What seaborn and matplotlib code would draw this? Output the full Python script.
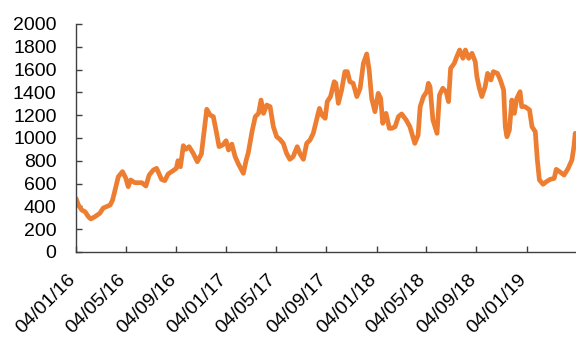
import matplotlib
matplotlib.use("Agg")
import matplotlib.pyplot as plt
import matplotlib.dates as mdates
import matplotlib.transforms as mtransforms
import pandas as pd
import seaborn as sns

dates = [
    "2016-01-04", "2016-01-10", "2016-01-18", "2016-01-26", "2016-02-03", "2016-02-09",
    "2016-02-19", "2016-03-02", "2016-03-10", "2016-03-27", "2016-04-02", "2016-04-08",
    "2016-04-16", "2016-04-26", "2016-05-04", "2016-05-10", "2016-05-16", "2016-05-26",
    "2016-06-12", "2016-06-22", "2016-06-30", "2016-07-10", "2016-07-18", "2016-07-30",
    "2016-08-07", "2016-08-15", "2016-08-27", "2016-09-04", "2016-09-08", "2016-09-14",
    "2016-09-21", "2016-09-27", "2016-10-05", "2016-10-15", "2016-10-25", "2016-11-04",
    "2016-11-10", "2016-11-17", "2016-11-25", "2016-12-03", "2016-12-11", "2016-12-17",
    "2016-12-26", "2017-01-03", "2017-01-09", "2017-01-17", "2017-01-25", "2017-02-02",
    "2017-02-14", "2017-02-21", "2017-02-26", "2017-03-07", "2017-03-15", "2017-03-23",
    "2017-03-29", "2017-04-04", "2017-04-12", "2017-04-20", "2017-04-28", "2017-05-06",
    "2017-05-14", "2017-05-22", "2017-05-30", "2017-06-07", "2017-06-15", "2017-06-25",
    "2017-07-02", "2017-07-10", "2017-07-18", "2017-07-26", "2017-08-03", "2017-08-10",
    "2017-08-18", "2017-08-24", "2017-09-01", "2017-09-06", "2017-09-14", "2017-09-23",
    "2017-09-27", "2017-10-03", "2017-10-11", "2017-10-19", "2017-10-25", "2017-10-31",
    "2017-11-08", "2017-11-17", "2017-11-25", "2017-12-03", "2017-12-11", "2017-12-17",
    "2017-12-23", "2017-12-31", "2018-01-08", "2018-01-14", "2018-01-19", "2018-01-27",
    "2018-02-04", "2018-02-10", "2018-02-18", "2018-02-26", "2018-03-06", "2018-03-17",
    "2018-03-26", "2018-04-07", "2018-04-15", "2018-04-20", "2018-04-28", "2018-05-06",
    "2018-05-10", "2018-05-14", "2018-05-21", "2018-05-31", "2018-06-06", "2018-06-14",
    "2018-06-22", "2018-06-28", "2018-07-03", "2018-07-12", "2018-07-18", "2018-07-25",
    "2018-08-02", "2018-08-08", "2018-08-16", "2018-08-24", "2018-09-01", "2018-09-05",
    "2018-09-11", "2018-09-17", "2018-09-25", "2018-10-01", "2018-10-09", "2018-10-15",
    "2018-10-25", "2018-11-01", "2018-11-09", "2018-11-13", "2018-11-17", "2018-11-23",
    "2018-11-29", "2018-12-05", "2018-12-11", "2018-12-19", "2018-12-23", "2018-12-31",
    "2019-01-11", "2019-01-17", "2019-01-25", "2019-01-30", "2019-02-04", "2019-02-13",
    "2019-02-21", "2019-03-02", "2019-03-12", "2019-03-17", "2019-03-25", "2019-04-05",
    "2019-04-15", "2019-04-24", "2019-04-29", "2019-05-02",
]

values = [
    470, 412, 368, 354, 310, 290,
    310, 340, 385, 412, 456, 544,
    661, 705, 648, 573, 632, 608,
    608, 579, 675, 719, 734, 637,
    626, 684, 713, 734, 801, 748,
    933, 901, 924, 866, 792, 860,
    1041, 1252, 1202, 1187, 1041, 924,
    939, 976, 895, 947, 836, 772,
    690, 807, 871, 1055, 1187, 1216,
    1333, 1216, 1289, 1275, 1099, 1011,
    988, 953, 866, 813, 836, 924,
    860, 813, 953, 982, 1041, 1143,
    1260, 1202, 1173, 1319, 1363, 1494,
    1480, 1304, 1421, 1582, 1582, 1494,
    1480, 1363, 1436, 1655, 1737, 1596,
    1348, 1231, 1392, 1348, 1129, 1216,
    1085, 1085, 1099, 1187, 1211, 1158,
    1099, 953, 1026, 1275, 1363, 1406,
    1480, 1450, 1158, 1041, 1377, 1436,
    1406, 1319, 1611, 1655, 1713, 1772,
    1699, 1772, 1699, 1743, 1670, 1538,
    1436, 1363, 1450, 1567, 1509, 1582,
    1567, 1509, 1421, 1099, 1011, 1070,
    1333, 1216, 1348, 1406, 1275, 1275,
    1246, 1099, 1055, 807, 632, 594,
    617, 637, 646, 725, 705, 675,
    734, 807, 924, 1041,
]

tick_dates = ["2016-01-04", "2016-05-04", "2016-09-04", "2017-01-04", "2017-05-04",
              "2017-09-04", "2018-01-04", "2018-05-04", "2018-09-04", "2019-01-04"]
y_ticks = [0, 200, 400, 600, 800, 1000, 1200, 1400, 1600, 1800, 2000]

df = pd.DataFrame({"date": pd.to_datetime(dates), "value": values})

sns.set_style("white")
plt.rcParams["font.family"] = ["Liberation Sans", "DejaVu Sans"]

fig = plt.figure(figsize=(5.76, 3.38), dpi=100)
ax = fig.add_axes([76 / 576, 1 - 252 / 338, 500 / 576, 228 / 338])

sns.lineplot(data=df, x="date", y="value", ax=ax, color="#ED7D31", linewidth=3.4)

ax.set_xlim(pd.Timestamp("2016-01-04"), pd.Timestamp("2019-05-04"))
ax.set_ylim(0, 2000)
ax.set_yticks(y_ticks)
ax.set_xticks(pd.to_datetime(tick_dates))
ax.xaxis.set_major_formatter(mdates.DateFormatter("%d/%m/%y"))
ax.set_xlabel("")
ax.set_ylabel("")

for s in ["top", "right"]:
    ax.spines[s].set_visible(False)
for s in ["left", "bottom"]:
    ax.spines[s].set_color("#404040")
    ax.spines[s].set_linewidth(1.0)

ax.tick_params(axis="y", direction="in", length=4, width=1, color="#404040",
               labelsize=14, pad=14, left=True, labelcolor="black")
ax.tick_params(axis="x", direction="in", length=4, width=1, color="#404040",
               labelsize=14, pad=14, bottom=True, labelcolor="black")
shift = mtransforms.ScaledTranslation(3 / 100, 0, fig.dpi_scale_trans)
for lab in ax.get_xticklabels():
    lab.set_rotation(45)
    lab.set_ha("right")
    lab.set_va("top")
    lab.set_rotation_mode("default")
    lab.set_transform(lab.get_transform() + shift)

fig.savefig("out.png", dpi=100)
